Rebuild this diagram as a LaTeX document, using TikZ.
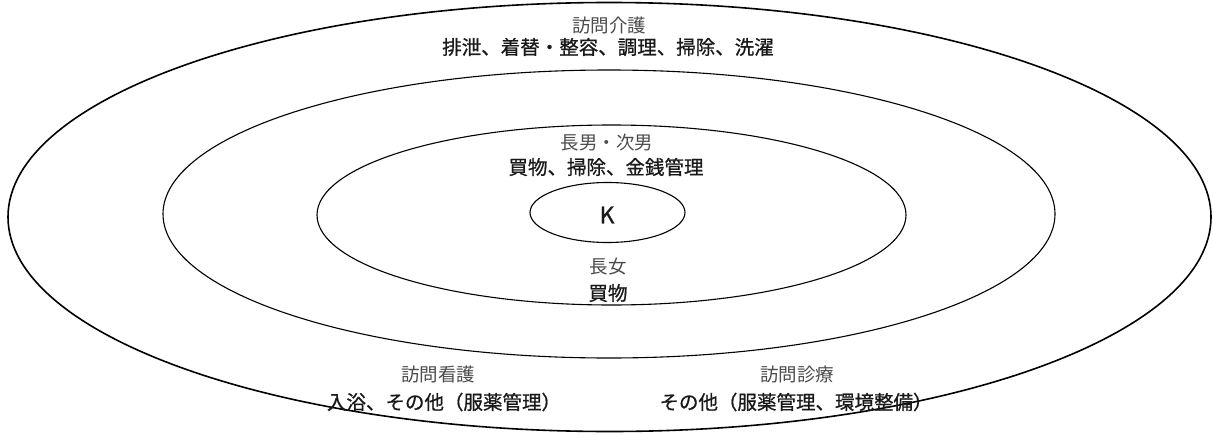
\documentclass[tikz,border=0pt]{standalone}
\usepackage{fontspec}
\newfontfamily\jp{Noto Sans CJK JP}
\newfontfamily\jpm[FakeBold=0.8]{Noto Sans CJK JP}
\begin{document}
\begin{tikzpicture}[x=1pt,y=-1pt,
  ring/.style={draw=black,line width=1.1pt},
  outerring/.style={draw=black,line width=1.6pt},
  head/.style={font=\jp\fontsize{18.5}{18.5}\selectfont,text=black!70,inner sep=0pt},
  body/.style={font=\jpm\fontsize{19.5}{19.5}\selectfont,text=black!90,inner sep=0pt}]
\useasboundingbox (0,0) rectangle (1213,434);
\fill[white] (0,0) rectangle (1213,434);
% ellipses
\draw[outerring] (609.5,217) ellipse [x radius=601.5, y radius=214.5];
\draw[ring] (609,214) ellipse [x radius=446, y radius=144];
\draw[ring] (611.5,215) ellipse [x radius=294.5, y radius=90];
\draw[ring] (607.5,212.5) ellipse [x radius=77.5, y radius=30];
% texts
\node[body,font=\jpm\fontsize{23}{23}\selectfont] (k) at (607,215) {K};
\node[head] (h1) at (609,25) {訪問介護};
\node[body] (b1) at (608,47) {排泄、着替・整容、調理、掃除、洗濯};
\node[head] (h2) at (607,143) {長男・次男};
\node[body] (b2) at (606,167) {買物、掃除、金銭管理};
\node[head] (h3) at (608,267) {長女};
\node[body] (b3) at (608,293) {買物};
\node[head] (h4) at (438,374) {訪問看護};
\node[body] (b4) at (444,402) {入浴、その他（服薬管理）};
\node[head] (h5) at (797,374) {訪問診療};
\node[body] (b5) at (796,402) {その他（服薬管理、環境整備）};
\end{tikzpicture}
\end{document}
